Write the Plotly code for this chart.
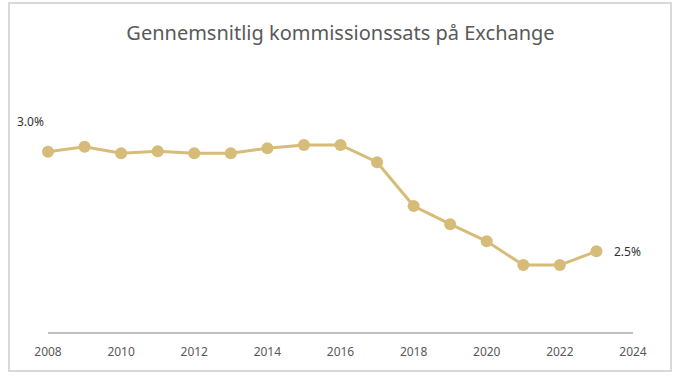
import plotly.graph_objects as go

years = [2008, 2009, 2010, 2011, 2012, 2013, 2014, 2015, 2016, 2017, 2018, 2019, 2020, 2021, 2022, 2023]
rates = [3.00, 3.025, 2.992, 3.002, 2.992, 2.992, 3.017, 3.034, 3.034, 2.947, 2.727, 2.636, 2.550, 2.431, 2.431, 2.500]
tick_years = [2008, 2010, 2012, 2014, 2016, 2018, 2020, 2022, 2024]
title_text = "Gennemsnitlig kommissionssats på Exchange"

gold = "#D6BC78"

fig = go.Figure()
fig.add_trace(go.Scatter(
    x=years, y=rates, mode="lines+markers",
    line=dict(color=gold, width=3),
    marker=dict(color=gold, size=12),
    cliponaxis=False,
    hoverinfo="x+y",
))

fig.add_annotation(x=years[0], y=rates[0], text="3.0%", showarrow=False,
                   xanchor="center", yanchor="middle", xshift=-18, yshift=30,
                   font=dict(size=12, color="#333333"))
fig.add_annotation(x=years[-1], y=rates[-1], text="2.5%", showarrow=False,
                   xanchor="left", yanchor="middle", xshift=16,
                   font=dict(size=12, color="#333333"))

fig.add_shape(type="rect", xref="paper", yref="paper",
              x0=-0.0667, x1=1.065, y0=-0.143, y1=1.21,
              line=dict(color="#D9D9D9", width=2), fillcolor="rgba(0,0,0,0)", layer="below")

fig.update_layout(
    width=682, height=382,
    margin=dict(l=48, r=49, t=60, b=50),
    paper_bgcolor="white", plot_bgcolor="white",
    font=dict(family="Noto Sans, Open Sans, sans-serif", color="#595959"),
    title=dict(text=title_text, x=0.5, xref="paper", xanchor="center",
               y=1 - 33 / 382, yref="container", yanchor="middle",
               font=dict(size=20, color="#595959")),
    showlegend=False,
    xaxis=dict(range=[2008, 2024], tickvals=tick_years, ticktext=[str(t) for t in tick_years],
               showgrid=False, zeroline=False, showline=True, linecolor="#BFBFBF", linewidth=2,
               ticks="outside", ticklen=8, tickcolor="white",
               tickfont=dict(size=12, color="#595959")),
    yaxis=dict(range=[2.095, 3.46], showgrid=False, zeroline=False, showticklabels=False,
               showline=False),
)

fig.write_html("out.html", config={"displayModeBar": False},
               post_script="document.body.style.margin='0';document.body.style.overflow='hidden';")
